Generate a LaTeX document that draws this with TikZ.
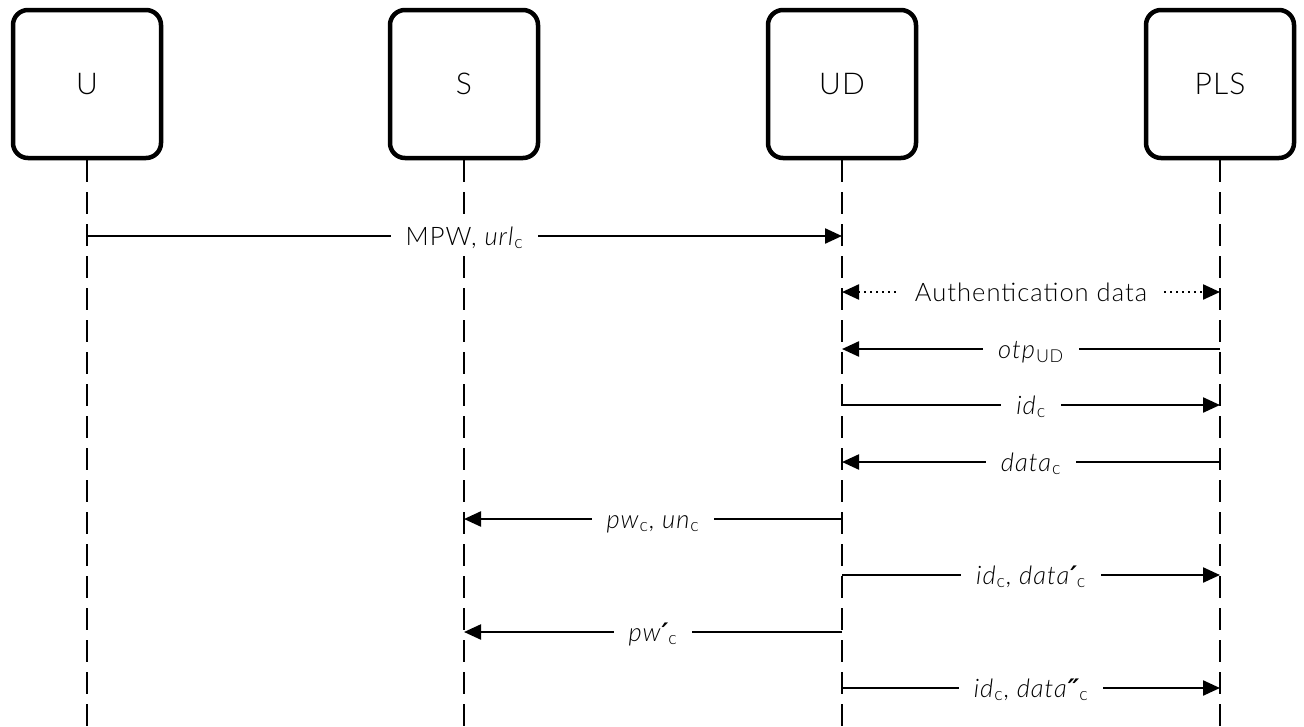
\documentclass[tikz,border=0pt]{standalone}
\usepackage{fontspec}
\setmainfont{Lato}[UprightFont=* Light, ItalicFont=* Light Italic, LetterSpace=4]
\newfontfamily\primefont{DejaVu Sans}
\usetikzlibrary{arrows.meta}
\newcommand\sub[1]{\textsubscript{#1}}
\newcommand\pr{{\primefont\bfseries\itshape ′}}
\newcommand\dpr{{\primefont\bfseries\itshape ″}}

\begin{document}
\begin{tikzpicture}[x=1pt,y=-1pt,
  actor/.style={draw,line width=4.5pt,rounded corners=15pt,minimum width=148pt,
    minimum height=148pt,inner sep=0pt,font=\fontsize{30}{36}\selectfont},
  lifeline/.style={line width=2.3pt,dash pattern=on 22pt off 10pt},
  msg/.style={line width=2.3pt,-{Triangle[length=17pt,width=15pt]}},
  dotmsg/.style={line width=2.3pt,dash pattern=on 2pt off 4pt,
    {Triangle[length=17pt,width=15pt]}-{Triangle[length=17pt,width=15pt]}},
  lbl/.style={fill=white,inner xsep=15pt,inner ysep=3pt,text height=18pt,
    text depth=0pt,font=\fontsize{25.5}{30}\selectfont}]
\useasboundingbox (0,0) rectangle (1304,726);

% participants
\node[actor] (U)   at (87,84)   {U};
\node[actor] (S)   at (464,84)  {S};
\node[actor] (UD)  at (842,84)  {UD};
\node[actor] (PLS) at (1220,84) {PLS};

% lifelines
\coordinate (bottom) at (0,726);
\foreach \p in {U,S,UD,PLS}
  \draw[lifeline] (\p.south) -- (\p.south |- bottom);

% message rows
\foreach \n/\y in {1/236,2/292,3/349,4/405,5/462,6/519,7/575,8/632,9/688}
  \foreach \p in {U,S,UD,PLS}
    \coordinate (\p\n) at (\p.south |- 0,\y);

\draw[msg] (U1) -- node[lbl] {MPW, \textit{url}\sub{c}} (UD1);
\draw[dotmsg] (UD2) -- node[lbl] {Authentication data} (PLS2);
\draw[msg] (PLS3) -- node[lbl] {\textit{otp}\sub{UD}} (UD3);
\draw[msg] (UD4) -- node[lbl] {\textit{id}\sub{c}} (PLS4);
\draw[msg] (PLS5) -- node[lbl] {\textit{data}\sub{c}} (UD5);
\draw[msg] (UD6) -- node[lbl] {\textit{pw}\sub{c}, \textit{un}\sub{c}} (S6);
\draw[msg] (UD7) -- node[lbl] {\textit{id}\sub{c}, \textit{data}\pr\sub{c}} (PLS7);
\draw[msg] (UD8) -- node[lbl] {\textit{pw}\pr\sub{c}} (S8);
\draw[msg] (UD9) -- node[lbl] {\textit{id}\sub{c}, \textit{data}\dpr\sub{c}} (PLS9);
\end{tikzpicture}
\end{document}
